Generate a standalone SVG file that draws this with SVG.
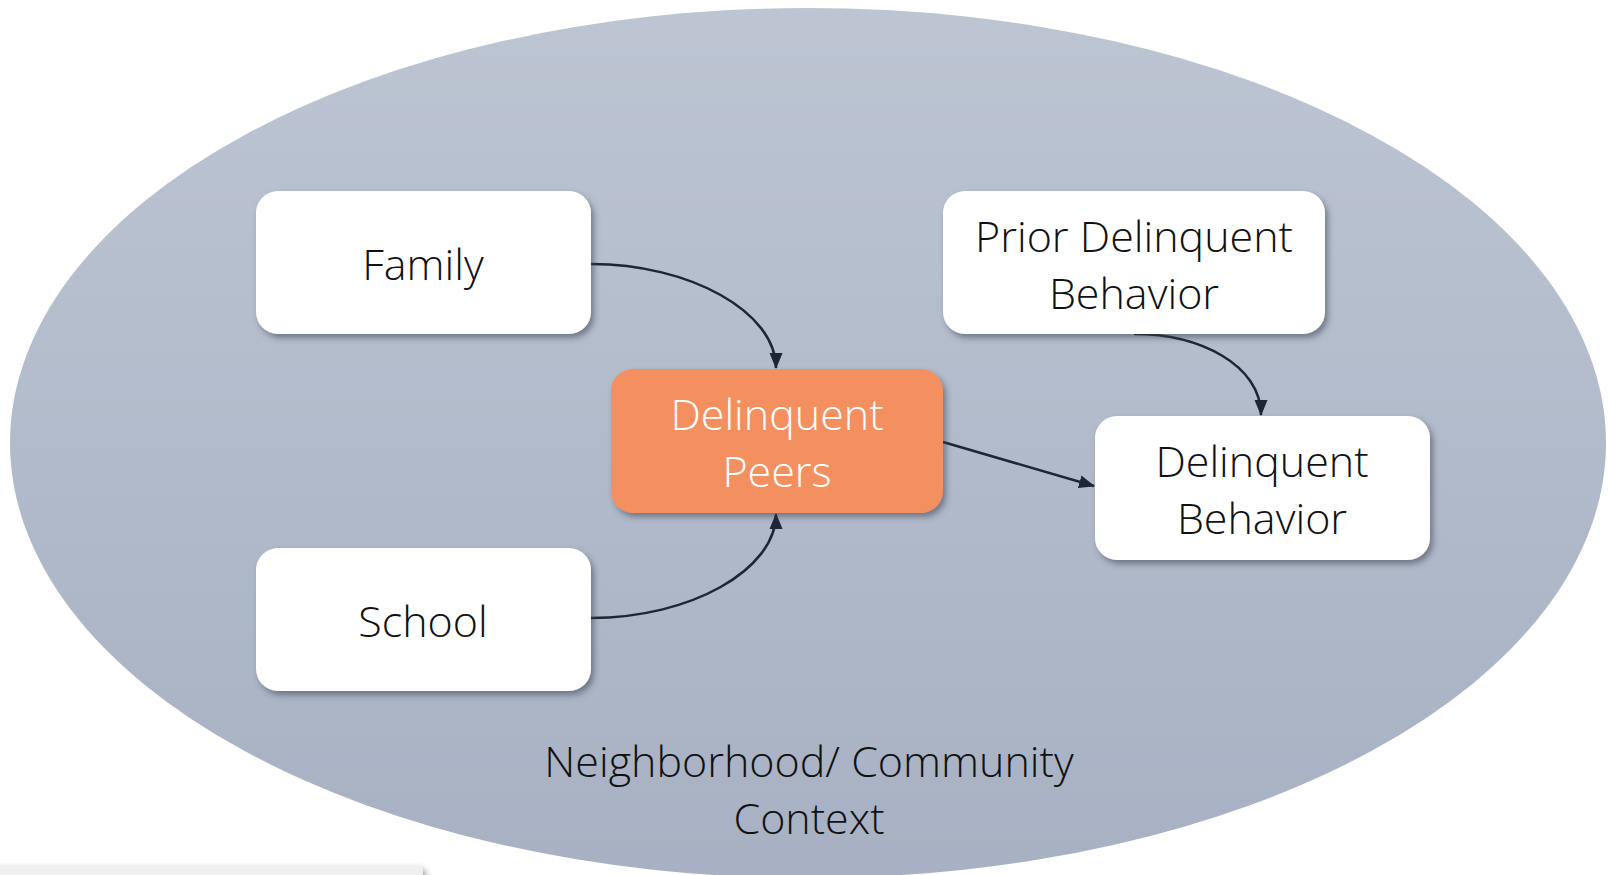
<svg xmlns="http://www.w3.org/2000/svg" width="1608" height="875" viewBox="0 0 1608 875">
<defs>
<linearGradient id="bg" x1="0" y1="0" x2="0" y2="1">
<stop offset="0" stop-color="#bdc5d3"/>
<stop offset="1" stop-color="#a7b1c3"/>
</linearGradient>
<filter id="sh" x="-10%" y="-10%" width="125%" height="130%">
<feDropShadow dx="3" dy="4" stdDeviation="3" flood-color="#3a4150" flood-opacity="0.55"/>
</filter>
<marker id="arr" markerWidth="16" markerHeight="14" refX="15" refY="7" orient="auto" markerUnits="userSpaceOnUse" viewBox="0 0 16 14">
<path d="M0,0.5 L16,7 L0,13.5 z" fill="#1e2535"/>
</marker>
<style>
.box{fill:#ffffff;filter:url(#sh)}
.hot{fill:#f4905e;filter:url(#sh)}
.t{font-family:"Open Sans","Liberation Sans",sans-serif;font-weight:300;font-size:43px;text-anchor:middle;fill:#111111}
.w{fill:#ffffff}
.c{fill:none;stroke:#1e2535;stroke-width:2.5;marker-end:url(#arr)}
</style>
</defs>
<rect width="1608" height="875" fill="#ffffff"/>
<g id="context">
<ellipse cx="808" cy="443" rx="798" ry="435" fill="url(#bg)"/>
<text class="t" x="809" y="777">Neighborhood/ Community</text>
<text class="t" x="809" y="834">Context</text>
</g>
<g id="connectors">
<path class="c" d="M591,264 C690,264 776,312 776,368"/>
<path class="c" d="M591,618 C690,618 776,570 776,514"/>
<path class="c" d="M943,442 L1094,486"/>
<path class="c" d="M1134,334 C1200,334 1261,365 1261,415"/>
</g>
<g id="family">
<rect class="box" x="256" y="191" width="335" height="143" rx="22"/>
<text class="t" x="423" y="280">Family</text>
</g>
<g id="school">
<rect class="box" x="256" y="548" width="335" height="143" rx="22"/>
<text class="t" x="423" y="637">School</text>
</g>
<g id="prior">
<rect class="box" x="943" y="191" width="382" height="143" rx="22"/>
<text class="t" x="1134" y="252">Prior Delinquent</text>
<text class="t" x="1134" y="309">Behavior</text>
</g>
<g id="peers">
<rect class="hot" x="611" y="369" width="332" height="144" rx="22"/>
<text class="t w" x="777" y="430">Delinquent</text>
<text class="t w" x="777" y="487">Peers</text>
</g>
<g id="behavior">
<rect class="box" x="1095" y="416" width="335" height="144" rx="22"/>
<text class="t" x="1262" y="477">Delinquent</text>
<text class="t" x="1262" y="534">Behavior</text>
</g>
<g id="bar">
<rect x="-10" y="865" width="433" height="20" rx="6" fill="#f0f0f0" filter="url(#sh)"/>
</g>
</svg>
